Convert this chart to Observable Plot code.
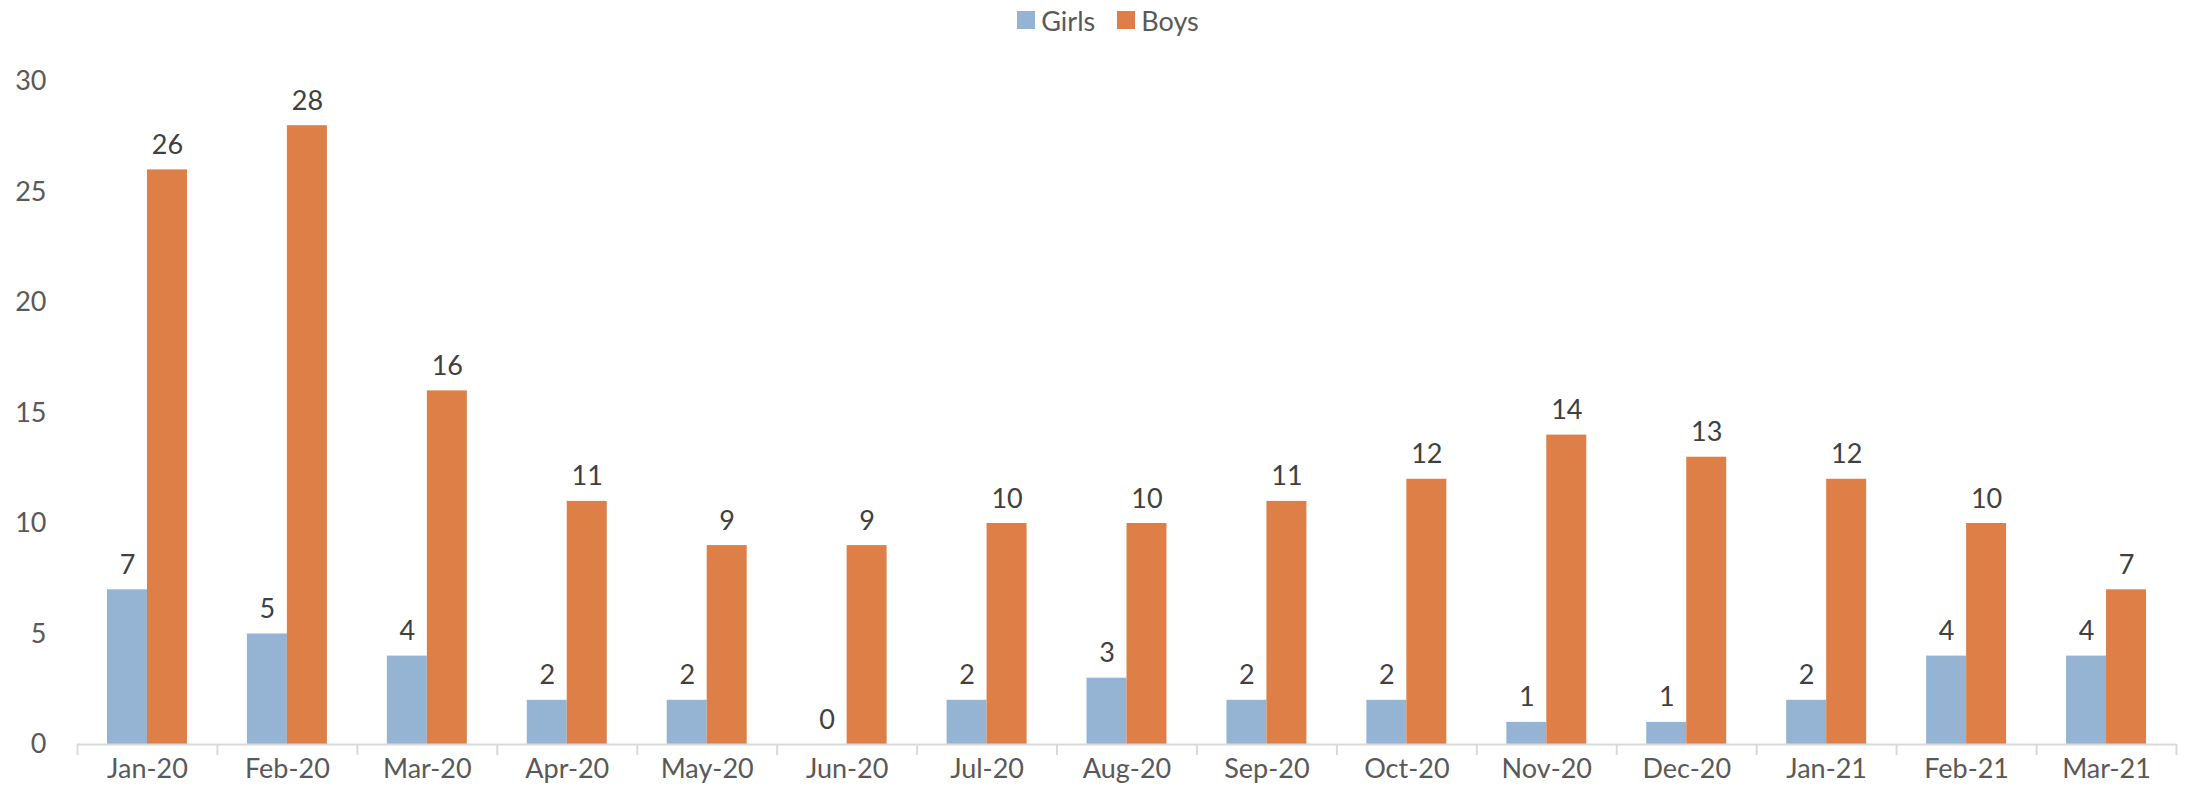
<!DOCTYPE html>
<html>
<head>
<meta charset="utf-8">
<script src="https://cdn.jsdelivr.net/npm/d3@7"></script>
<script src="https://cdn.jsdelivr.net/npm/@observablehq/plot@0.6"></script>
<style>
  html, body { margin: 0; padding: 0; background: #fff; }
  body { width: 2188px; height: 801px; overflow: hidden; font-family: Lato, "Open Sans", sans-serif; }
  #legend { height: 40px; display: flex; justify-content: center; align-items: center; gap: 22px; font-size: 27px; color: #595959; padding-left: 28px; box-sizing: border-box; }
  #legend .item { display: flex; align-items: center; gap: 6px; }
  #legend .sw { width: 18px; height: 18px; display: inline-block; }
</style>
</head>
<body>
<div id="legend"></div>
<div id="chart"></div>
<script>
const months = ["Jan-20","Feb-20","Mar-20","Apr-20","May-20","Jun-20","Jul-20","Aug-20","Sep-20","Oct-20","Nov-20","Dec-20","Jan-21","Feb-21","Mar-21"];
const series = ["Girls", "Boys"];
const girls = [7, 5, 4, 2, 2, 0, 2, 3, 2, 2, 1, 1, 2, 4, 4];
const boys = [26, 28, 16, 11, 9, 9, 10, 10, 11, 12, 14, 13, 12, 10, 7];
const colors = ["#95b4d3", "#dd7f46"];
const yTicks = [0, 5, 10, 15, 20, 25, 30];

const data = [];
months.forEach((m, i) => {
  data.push({month: m, sex: "Girls", value: girls[i]});
  data.push({month: m, sex: "Boys", value: boys[i]});
});

const legend = document.getElementById("legend");
series.forEach((s, i) => {
  const it = document.createElement("div");
  it.className = "item";
  it.innerHTML = `<span class="sw" style="background:${colors[i]}"></span><span>${s}</span>`;
  legend.appendChild(it);
});

const W = 2188, H = 761, ML = 77, MR = 12;
const half = (W - ML - MR) / months.length / 2;

const chart = Plot.plot({
  width: W,
  height: H,
  marginLeft: ML,
  marginRight: MR,
  marginTop: 41,
  marginBottom: 57,
  style: {fontFamily: "Lato, 'Open Sans', sans-serif", background: "#fff"},
  fx: {domain: months, padding: 0, round: false, axis: null, label: null},
  x: {domain: series, paddingInner: 0, paddingOuter: 0.75, round: false, axis: null},
  y: {domain: [0, 30], axis: null},
  color: {domain: series, range: colors},
  marks: [
    Plot.barY(data, {fx: "month", x: "sex", y: "value", fill: "sex"}),
    Plot.text(data, {fx: "month", x: "sex", y: "value", text: d => String(d.value), lineAnchor: "bottom", dy: -16, fontSize: 27, fill: "#404040"}),
    Plot.ruleY([0], {stroke: "#d9d9d9", strokeWidth: 2}),
    Plot.axisY({ticks: yTicks, tickSize: 0, tickPadding: 31, fontSize: 27, fill: "#595959", label: null}),
    Plot.axisFx({anchor: "bottom", tickSize: 0, tickPadding: 14, fontSize: 27, fill: "#595959", label: null}),
    Plot.axisFx({anchor: "bottom", tickSize: 11, tickFormat: () => "", stroke: "#d9d9d9", strokeWidth: 2, dx: -half, label: null}),
    Plot.axisFx({anchor: "bottom", ticks: [months[months.length - 1]], tickSize: 11, tickFormat: () => "", stroke: "#d9d9d9", strokeWidth: 2, dx: half, label: null})
  ]
});
document.getElementById("chart").appendChild(chart);
</script>
</body>
</html>
